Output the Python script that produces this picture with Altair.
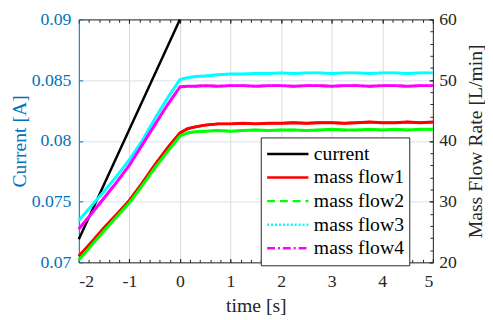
import altair as alt
import pandas as pd

# ---- data ----
series_names = ["current", "mass flow1", "mass flow2", "mass flow3", "mass flow4"]
series_colors = ["#000000", "#ff0000", "#00ff00", "#00ffff", "#ff00ff"]
series_dashes = [[1, 0], [1, 0], [8, 5], [2, 2], [8, 3, 2, 3]]

current_t = [-2.0, 0.0]
current_a = [0.0719, 0.09]

flow_t = [-2.0, -1.75, -1.5, -1.25, -1.0, -0.75, -0.5, -0.25, 0.0, 0.15, 0.3, 0.5,
          0.75, 1.0, 1.25, 1.5, 1.75, 2.0, 2.25, 2.5, 2.75, 3.0, 3.25, 3.5, 3.75,
          4.0, 4.25, 4.5, 4.75, 5.0]
flow1 = [21.0, 23.3, 25.7, 27.9, 30.2, 33.0, 36.0, 38.8, 41.3, 42.0, 42.3, 42.6,
         42.8, 42.8, 42.9, 42.8, 42.9, 42.9, 43.0, 42.9, 43.0, 43.0, 42.9, 43.0, 43.1,
         43.0, 43.0, 43.1, 43.0, 43.1]
flow2 = [20.4, 22.8, 25.2, 27.5, 29.8, 32.6, 35.5, 38.2, 40.8, 41.3, 41.5, 41.6,
         41.7, 41.6, 41.7, 41.8, 41.7, 41.8, 41.8, 41.7, 41.8, 41.9, 41.8, 41.8, 41.9,
         41.8, 41.9, 41.8, 41.9, 41.9]
flow3 = [26.9, 29.3, 31.7, 34.2, 36.9, 40.0, 43.6, 47.0, 50.1, 50.4, 50.6, 50.7,
         50.9, 51.0, 51.0, 51.1, 51.1, 51.2, 51.1, 51.2, 51.2, 51.1, 51.2, 51.2, 51.1,
         51.2, 51.2, 51.1, 51.2, 51.2]
flow4 = [25.5, 28.0, 30.6, 33.2, 36.0, 39.3, 42.6, 45.9, 48.9, 49.0, 49.0, 49.1,
         49.0, 49.1, 49.1, 49.0, 49.1, 49.1, 49.0, 49.1, 49.1, 49.0, 49.1, 49.1, 49.0,
         49.1, 49.1, 49.0, 49.1, 49.1]

x_ticks = [-2, -1, 0, 1, 2, 3, 4, 5]
x_minor = [round(-2 + 0.2 * i, 1) for i in range(36)]
yl_ticks = [0.07, 0.075, 0.08, 0.085, 0.09]
yr_ticks = [20, 30, 40, 50, 60]
yr_minor = list(range(20, 61, 2))

cur_df = pd.DataFrame({"t": current_t, "v": current_a, "series": "current"})
flow_df = pd.concat([
    pd.DataFrame({"t": flow_t, "v": vals, "series": name})
    for name, vals in zip(series_names[1:], [flow1, flow2, flow3, flow4])
], ignore_index=True)

FONT = "Liberation Serif"
AX = "#262626"
BLUE = "#0072bd"

xs = alt.Scale(domain=[-2, 5], nice=False, zero=False)
yl = alt.Scale(domain=[0.07, 0.09], nice=False, zero=False)
yr = alt.Scale(domain=[20, 60], nice=False, zero=False)

legend = alt.Legend(
    title=None, orient="none", legendX=185, legendY=120,
    padding=5, strokeColor=AX, fillColor="white", cornerRadius=0,
    symbolType="stroke", symbolSize=1764, symbolStrokeWidth=2.5,
    labelFont=FONT, labelFontSize=20, labelOffset=4, labelColor="#000000",
    rowPadding=0, clipHeight=23.5,
)
color = alt.Color("series:N", scale=alt.Scale(domain=series_names, range=series_colors), legend=legend)
dash = alt.StrokeDash("series:N", scale=alt.Scale(domain=series_names, range=series_dashes), legend=legend)

def tick_axis(orient, values, size, offset, col=AX):
    return alt.Axis(orient=orient, values=values, offset=offset, tickSize=size,
                    tickColor=col, tickWidth=1, domain=False, labels=False,
                    grid=False, title="")

# layer 1: current + bottom / left labelled axes
l_current = alt.Chart(cur_df).mark_line(strokeWidth=2.5).encode(
    x=alt.X("t:Q", scale=xs, axis=alt.Axis(
        orient="bottom", values=x_ticks,
        labelExpr="datum.value < 0 ? '-' + abs(datum.value) : '' + datum.value",
        grid=True, gridColor="#dadada", gridWidth=1, tickSize=0,
        domainColor=AX, domainWidth=1, labelFont=FONT, labelFontSize=18,
        labelColor=AX, labelPadding=11, title="time [s]", titleFont=FONT,
        titleFontSize=20, titleFontWeight="normal", titleColor=AX,
        titleX=180, titleY=50, titleAlign="center", titleBaseline="alphabetic")),
    y=alt.Y("v:Q", scale=yl, axis=alt.Axis(
        orient="left", values=yl_ticks, format="~g", grid=True,
        gridColor="#d6e3ef", gridWidth=1, tickSize=0, domainColor=BLUE,
        domainWidth=1, labelFont=FONT, labelFontSize=18, labelColor=BLUE,
        labelPadding=8, title="Current [A]", titleFont=FONT, titleFontSize=20,
        titleFontWeight="normal", titleColor=BLUE, titleAngle=270,
        titleX=-54, titleY=123.5, titleAlign="center", titleBaseline="alphabetic")),
    color=color, strokeDash=dash,
)

# layer 2: flows, dashed (beneath, feeds the legend) + top / right axes
l_flow_dash = alt.Chart(flow_df).mark_line(strokeWidth=2.5).encode(
    x=alt.X("t:Q", scale=xs, axis=alt.Axis(
        orient="top", values=x_ticks, domainColor=AX, domainWidth=1,
        labels=False, ticks=False, grid=False, title="")),
    y=alt.Y("v:Q", scale=yr, axis=alt.Axis(
        orient="right", values=yr_ticks, grid=False, tickSize=0,
        domainColor=AX, domainWidth=1, labelFont=FONT, labelFontSize=18,
        labelColor=AX, labelPadding=6, title="Mass Flow Rate [L/min]",
        titleFont=FONT, titleFontSize=20, titleFontWeight="normal",
        titleColor=AX, titleAngle=270, titleX=49, titleY=123.5,
        titleAlign="center", titleBaseline="alphabetic")),
    color=color, strokeDash=dash,
)

# layer 3: flows, solid (visible)
l_flow = alt.Chart(flow_df).mark_line(strokeWidth=3).encode(
    x=alt.X("t:Q", scale=xs, axis=None),
    y=alt.Y("v:Q", scale=yr, axis=None),
    color=color,
)

def ghost(xaxis, yaxis, yscale):
    return alt.Chart(flow_df).mark_line(opacity=0).encode(
        x=alt.X("t:Q", scale=xs, axis=xaxis),
        y=alt.Y("v:Q", scale=yscale, axis=yaxis),
    )

l_t1 = ghost(tick_axis("bottom", x_ticks, 4, -4), tick_axis("right", yr_ticks, 4, -4), yr)
l_t2 = ghost(tick_axis("top", x_ticks, 4, -4), tick_axis("left", yl_ticks, 4, -4, BLUE), yl)
l_t3 = ghost(tick_axis("bottom", x_minor, 3, -3), tick_axis("right", yr_minor, 3, -3), yr)
l_t4 = ghost(tick_axis("top", x_minor, 3, -3), None, yr)

chart = alt.layer(
    l_current, l_flow_dash, l_flow, l_t1, l_t2, l_t3, l_t4
).resolve_scale(
    x="shared", y="independent"
).resolve_axis(
    x="independent", y="independent"
).properties(
    width=360, height=247,
    autosize=alt.AutoSizeParams(type="none"),
    padding={"left": 72, "top": 9, "right": 53, "bottom": 56},
).configure(
    font=FONT, background="white",
    style={"guide-label": {"font": FONT, "fontSize": 18},
           "guide-title": {"font": FONT}},
).configure_view(
    stroke=None
).configure_axis(
    labelFont=FONT, titleFont=FONT, labelFontSize=18
)

chart.save("out.html", embed_options={"renderer": "svg", "actions": False})
